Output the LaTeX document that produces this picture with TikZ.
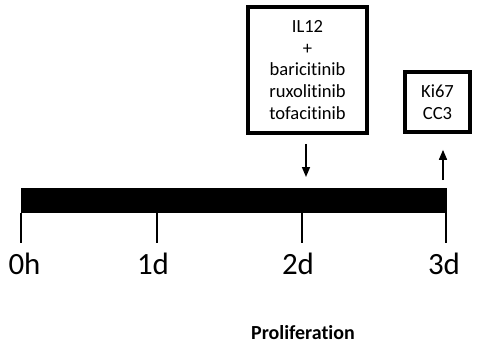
\documentclass[tikz,border=0pt]{standalone}
\usepackage{fontspec}
\setmainfont{Carlito}[Ligatures=NoCommon]
\usetikzlibrary{arrows.meta,positioning}

\begin{document}
\begin{tikzpicture}[
  box/.style={draw, line width=2.6pt, align=center, inner sep=0pt, font=\fontsize{13.2}{15.6}\selectfont},
  arr/.style={-{Triangle[length=0.25cm,width=0.2cm]}, line width=1.1pt},
  tick/.style={line width=1.2pt},
  daylab/.style={anchor=base, font=\fontsize{22}{26}\selectfont}
]
\useasboundingbox (0,0) rectangle (12.05,8.8);
% timeline bar
\node[fill=black, minimum width=10.65cm, minimum height=0.625cm, inner sep=0pt] (bar) at (5.85,3.7875) {};
% ticks and day labels
\foreach \x/\lx/\t/\n in {0.525/0.6125/0h/t0, 3.925/3.825/1d/t1, 7.55/7.45/2d/t2, 11.15/11.1/3d/t3}{
  \coordinate (\n) at (\x,2.725);
  \draw[tick] (\n |- bar.south) -- (\n);
  \node[daylab] (l\n) at (\lx,1.95) {\t};
}
% treatment and readout boxes
\node[box, minimum width=2.975cm, minimum height=3.15cm] (drug) at (7.6875,7.05) {IL12\\+\\baricitinib\\ruxolitinib\\tofacitinib};
\node[box, minimum width=1.625cm, minimum height=1.5cm] (read) at (10.9375,6.25) {Ki67\\CC3};
% arrows
\coordinate (in) at (7.65,4.1);
\coordinate (out) at (11.075,4.1);
\draw[arr, shorten <=0.225cm, shorten >=0.275cm] (in |- drug.south) -- (in);
\draw[arr, shorten <=0.2cm, shorten >=0.4cm] (out) -- (out |- read.south);
% caption
\node[font=\fontsize{14.2}{17}\selectfont\bfseries] (cap) at (7.575,0.475) {Proliferation};
\end{tikzpicture}
\end{document}
